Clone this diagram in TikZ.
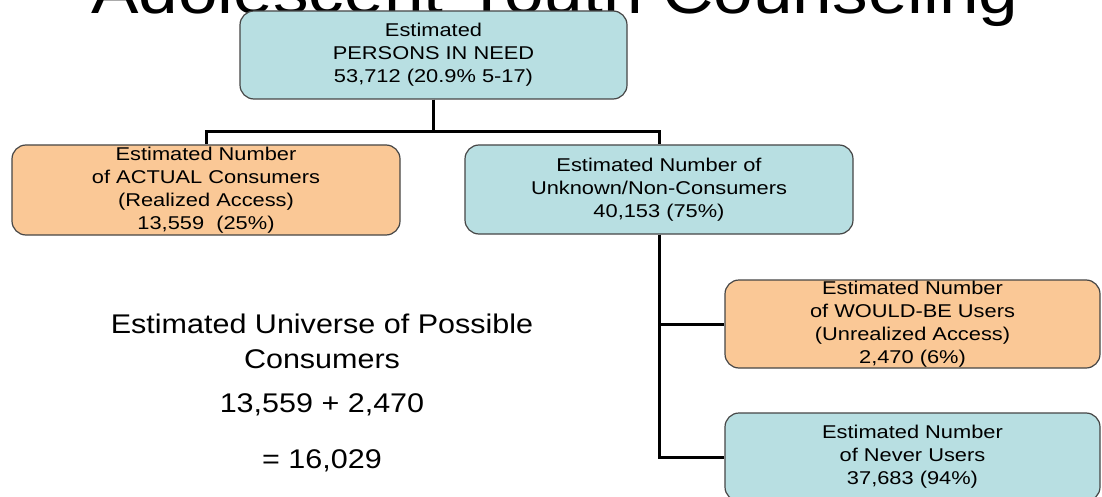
\documentclass[tikz,border=0pt]{standalone}
\usepackage{fontspec}
\setmainfont{Liberation Sans}
\newfontfamily\boxfont{Liberation Sans}[FakeStretch=1.18]
\newfontfamily\bigfont{Liberation Sans}[FakeStretch=1.13]
\definecolor{boxblue}{RGB}{184,223,226}
\definecolor{boxorange}{RGB}{250,200,150}
\definecolor{boxline}{RGB}{70,70,70}
\tikzset{
  card/.style={draw=boxline, line width=1.2pt, rounded corners=14pt,
    align=center, inner sep=0pt, text=black,
    font=\boxfont\fontsize{18.5}{23}\selectfont},
  bluecard/.style={card, fill=boxblue},
  orangecard/.style={card, fill=boxorange},
  link/.style={line width=3pt, black},
  bigtext/.style={font=\bigfont\fontsize{27}{35}\selectfont, anchor=base, inner sep=0pt},
}
\begin{document}
\begin{tikzpicture}[x=1pt,y=-1pt]
\useasboundingbox (0,0) rectangle (1102,497);
\clip (0,0) rectangle (1102,497);
\fill[white] (0,0) rectangle (1102,497);
\node[font=\bigfont\fontsize{63}{63}\selectfont, anchor=base, inner sep=0pt] (title) at (555,14) {Adolescent Youth Counseling};

\node[bluecard, minimum width=387pt, minimum height=88pt] (need) at (433.5,55)
  {Estimated\\PERSONS IN NEED\\53,712 (20.9\% 5-17)};
\node[orangecard, minimum width=388pt, minimum height=90pt] (actual) at (206,190)
  {Estimated Number\\of ACTUAL Consumers\\(Realized Access)\\13,559~~(25\%)};
\node[bluecard, minimum width=388pt, minimum height=89pt] (non) at (659,189.5)
  {Estimated Number of\\Unknown/Non-Consumers\\40,153 (75\%)};
\node[orangecard, minimum width=375pt, minimum height=88pt] (would) at (912.5,324)
  {Estimated Number\\of WOULD-BE Users\\(Unrealized Access)\\2,470 (6\%)};
\node[bluecard, minimum width=375pt, minimum height=88pt] (never) at (912.5,457)
  {Estimated Number\\of Never Users\\37,683 (94\%)};

\draw[link] (need.south) -- ++(0,32) -| (actual.north);
\draw[link] (need.south) -- ++(0,32) -| (non.north);
\draw[link] (non.south) |- (would.west);
\draw[link] (non.south) |- (never.west);

\node[bigtext] (u1) at (322,333) {Estimated Universe of Possible};
\node[bigtext] (u2) at (322,368) {Consumers};
\node[bigtext] (e1) at (322,412) {13,559 + 2,470};
\node[bigtext] (e2) at (322,468) {= 16,029};
\end{tikzpicture}
\end{document}
